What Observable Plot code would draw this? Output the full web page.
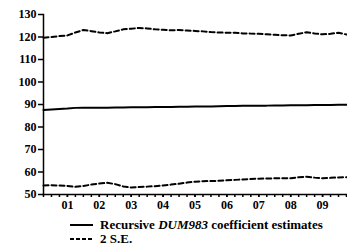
<!DOCTYPE html>
<html><head><meta charset="utf-8">
<script src="https://cdn.jsdelivr.net/npm/d3@7"></script>
<script src="https://cdn.jsdelivr.net/npm/@observablehq/plot@0.6"></script>
<style>
body{margin:0;background:#fff;font-family:"Liberation Serif",serif;font-weight:bold;color:#000;}
#legend{padding-left:70px;padding-top:4px;font-size:13px;}
.row{display:flex;align-items:center;height:14px;white-space:nowrap;}
.row svg{margin-right:7px;flex:none}
</style></head><body>
<div id="chart"></div>
<div id="legend"></div>
<script>
const quarters = [0.25,0.5,0.75,1,1.25,1.5,1.75,2,2.25,2.5,2.75,3,3.25,3.5,3.75,4,4.25,4.5,4.75,5,5.25,5.5,5.75,6,6.25,6.5,6.75,7,7.25,7.5,7.75,8,8.25,8.5,8.75,9,9.25,9.5,9.75];
const estimate = [87.6,87.8,88.0,88.2,88.5,88.6,88.6,88.6,88.6,88.7,88.7,88.8,88.8,88.8,88.9,88.9,88.9,89.0,89.0,89.1,89.1,89.1,89.2,89.3,89.3,89.4,89.4,89.5,89.5,89.6,89.6,89.7,89.7,89.7,89.8,89.8,89.8,89.9,89.9];
const upper = [119.7,120.0,120.4,120.7,122.0,123.1,122.6,122.0,121.7,122.5,123.4,123.7,124.0,123.8,123.4,123.2,123.0,123.1,122.9,122.7,122.5,122.2,122.0,121.9,121.9,121.6,121.5,121.4,121.2,121.0,120.8,120.7,121.4,122.1,121.6,121.2,121.4,121.9,121.1];
const lower = [54.0,54.1,54.0,53.8,53.4,53.8,54.4,54.9,55.2,54.6,53.6,53.1,53.3,53.5,53.7,54.0,54.4,54.8,55.3,55.7,55.9,56.0,56.1,56.3,56.5,56.7,56.9,57.0,57.1,57.2,57.2,57.2,57.7,57.9,57.5,57.2,57.4,57.6,57.7];
const yTicks = [50,60,70,80,90,100,110,120,130];
const xTicks = [1,2,3,4,5,6,7,8,9];
const xTickLabels = ["01","02","03","04","05","06","07","08","09"];
const legendLabels = ["Recursive <i>DUM983</i> coefficient estimates", "2 S.E."];

const data = quarters.map((t, i) => ({t, est: estimate[i], up: upper[i], lo: lower[i]}));

const chart = Plot.plot({
  width: 347, height: 214,
  marginLeft: 43, marginRight: 1, marginTop: 14, marginBottom: 20,
  style: {fontFamily: "Liberation Serif, serif", fontSize: "12px", fontWeight: "bold", color: "#000", background: "#fff"},
  x: {domain: [0.25, 9.75]},
  y: {domain: [50, 130]},
  marks: [
    Plot.axisY({ticks: yTicks, tickSize: 5, tickPadding: 2, strokeWidth: 1.5, label: null}),
    Plot.axisX({ticks: quarters, tickSize: 3, tickFormat: () => "", strokeWidth: 1.5, label: null}),
    Plot.axisX({ticks: xTicks, tickSize: 3, tickPadding: 3, tickFormat: d => xTickLabels[xTicks.indexOf(d)], strokeWidth: 1.5, label: null}),
    Plot.frame({anchor: "left", strokeWidth: 1.5}),
    Plot.frame({anchor: "bottom", strokeWidth: 1.5}),
    Plot.line(data, {x: "t", y: "up", stroke: "#000", strokeWidth: 2, strokeDasharray: "5,3"}),
    Plot.line(data, {x: "t", y: "lo", stroke: "#000", strokeWidth: 2, strokeDasharray: "5,3"}),
    Plot.line(data, {x: "t", y: "est", stroke: "#000", strokeWidth: 2})
  ]
});
document.getElementById("chart").appendChild(chart);

const leg = document.getElementById("legend");
const dashes = ["", "4,2"];
legendLabels.forEach((lab, i) => {
  const row = document.createElement("div");
  row.className = "row";
  row.innerHTML = `<svg width="23" height="6"><line x1="0" y1="3" x2="23" y2="3" stroke="#000" stroke-width="2" ${dashes[i] ? `stroke-dasharray="${dashes[i]}"` : ""}/></svg><span>${lab}</span>`;
  leg.appendChild(row);
});
</script>
</body></html>
